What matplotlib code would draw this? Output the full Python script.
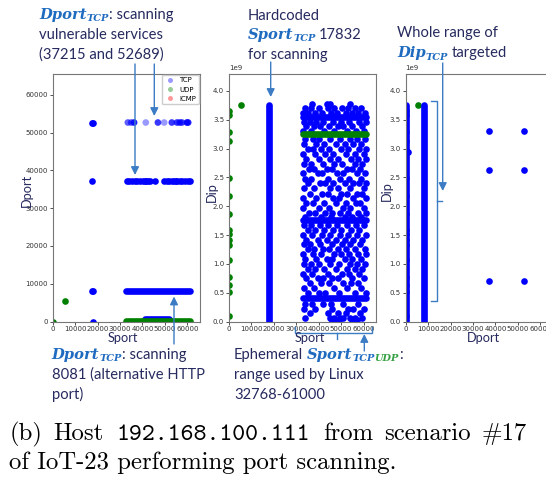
import matplotlib
matplotlib.use("Agg")
import matplotlib.pyplot as plt
from matplotlib.lines import Line2D
from matplotlib.patches import FancyArrowPatch
import numpy as np

# ---- data -------------------------------------------------------------
PORT_MAX = 65535
IP_MAX = 2 ** 32

# panel 1: Sport vs Dport
p1_tcp_sport = [17600, 18100, 17700, 17600, 18100, 17832]
p1_tcp_dport = [52689, 52689, 37215, 8081, 8081, 0]
row37215_sport = [33.0, 34.2, 35.4, 36.6, 37.8, 39.0, 40.2, 41.0, 41.8, 42.6, 43.6,
                  45.8, 49.6, 50.8, 52.0, 53.2, 54.0, 54.8, 55.6, 56.6, 57.8, 59.0,
                  60.2, 61.0]
row52689_sport = [33.5, 35.0, 36.3, 41.5, 46.9, 49.7, 53.1, 55.4, 56.6, 57.6, 59.8, 60.4]
row52689_count = [2, 2, 4, 1, 3, 1, 3, 3, 3, 3, 4, 4]
p1_tcp_band = [(32768, 61000, 8081), (41300, 52000, 700)]   # sport from, sport to, dport
p1_udp_band = [(32768, 61000, 53)]
p1_udp_sport = [0, 5353]
p1_udp_dport = [0, 5353]

# panel 2: Sport vs Dip (Dip in 1e9)
scan_sport = 17832
scan_dip_top = 3.76
udp_zero_dip = [3.65, 3.58, 3.29, 3.13, 2.49, 2.17, 1.86, 1.58, 1.51, 1.42, 1.33,
                1.07, 0.78, 0.64, 0.52, 0.09]
udp_extra = (5353, 3.76)
tcp_dip_bands = [3.55, 1.76, 0.40]
udp_dip_bands = [3.25]
eph_range = (33000, 61000)
cloud_dip = [3.78, 3.70, 3.62, 3.47, 3.39, 3.31, 3.16, 3.08, 2.99, 2.91, 2.82, 2.74,
             2.65, 2.57, 2.48, 2.40, 2.31, 2.22, 2.14, 2.05, 1.97, 1.88, 1.82, 1.67,
             1.59, 1.50, 1.42, 1.34, 1.25, 1.17, 1.08, 1.00, 0.91, 0.83, 0.75, 0.66,
             0.58, 0.50, 0.31, 0.22, 0.14, 0.06, 0.02]
cloud_sport = [
    [37, 43.5, 45, 54],
    [34, 36.5, 40, 44, 47, 50.5, 53, 56, 59],
    [33, 35, 38.5, 41.5, 45.5, 48, 52, 55, 57.5, 60.5],
    [33.5, 36, 39, 42, 46.5, 50, 53.5, 58, 61],
    [34.5, 38, 40.5, 44.5, 48.5, 51, 55, 59.5],
    [33, 36.5, 42.5, 47, 52.5, 56.5, 60],
    [34, 37.5, 40, 45, 49.5, 54, 57, 60.5],
    [33.5, 39, 42.5, 47.5, 51.5, 55.5, 59],
    [35, 37.5, 41, 44.5, 50, 53, 58, 61],
    [33, 38.5, 43, 46.5, 52, 56, 60],
    [34.5, 40, 45, 48.5, 54.5, 57.5, 61],
    [33.5, 36.5, 42, 47, 50.5, 56, 59.5],
    [35.5, 38, 43.5, 46, 52.5, 55, 58.5],
    [33, 39.5, 41.5, 48, 51, 57, 60.5],
    [34, 36.5, 44, 49.5, 53.5, 59],
    [35, 40.5, 43, 46.5, 51.5, 55.5, 58, 61],
    [33.5, 38, 45, 48.5, 54, 60],
    [36, 41.5, 44, 50, 52.5, 57, 59.5],
    [33, 39, 46.5, 49, 55.5, 61],
    [34.5, 37.5, 42.5, 47.5, 52, 56.5, 58.5],
    [33, 40, 44.5, 51, 54, 60],
    [35.5, 38.5, 43, 46, 49.5, 53, 57.5, 61],
    [34, 41, 45.5, 51.5, 55, 59],
    [33.5, 36.5, 40.5, 44, 48, 52.5, 56.5, 60],
    [35, 38.5, 42.5, 46.5, 50, 54.5, 58],
    [33, 37, 41.5, 45, 49.5, 53, 57, 61],
    [34.5, 39.5, 43.5, 47.5, 51.5, 55.5, 59.5],
    [33.5, 36, 40.5, 46, 50.5, 54, 58.5],
    [35, 38, 42, 44.5, 48.5, 52, 56, 60.5],
    [33, 37.5, 41, 47, 50, 53.5, 57.5, 61],
    [34, 39, 43.5, 46, 51.5, 55, 59],
    [33.5, 36.5, 40, 45, 49, 54, 57, 60.5],
    [35, 38.5, 42.5, 47.5, 52.5, 56, 59.5],
    [33, 37, 44, 50.5, 53.5, 58],
    [34.5, 39.5, 42, 46, 48.5, 55, 60],
    [36, 41, 44.5, 51, 54.5, 57.5],
    [33.5, 38, 47, 52.5, 59],
    [35, 40, 43, 49, 56, 61],
    [34, 37, 42, 45.5, 51, 57.5],
    [33.5, 38.5, 46, 53, 55.5, 60],
    [36, 44, 48.5, 52, 58.5],
    [34, 45, 47, 49.5, 51, 54, 56, 59.5],
    [46, 47.5, 49, 55, 57],
]

# panel 3: Dport vs Dip
p3_tcp_vbands = [200, 8081]
p3_tcp_single = (1200, 2.95)
p3_scan_dports = [37215, 52689]
p3_scan_dips = [3.30, 2.63, 0.70]

# ---- style -------------------------------------------------------------
W, H = 546, 483
TCP_C, UDP_C, ICMP_C = "blue", "green", "red"
NAVY = "#262a5e"
HL_BLUE = "#1f6bc0"
HL_GREEN = "#33a043"
ARROW = "#3b7cc4"
S = 23      # scatter marker area
LW = 4.8    # band thickness in points (same as marker diameter)

fig = plt.figure(figsize=(W / 100, H / 100), dpi=100)


def axes_px(left, top, width, height):
    return fig.add_axes([left / W, 1 - (top + height) / H, width / W, height / H])


ax1 = axes_px(52.7, 74, 147, 247.5)
ax2 = axes_px(229, 74, 147, 247.5)
ax3 = axes_px(405.7, 74, 147, 247.5)


def hband(ax, x0, x1, y, c):
    ax.plot([x0, x1], [y, y], color=c, lw=LW, solid_capstyle="round")


def vband(ax, x, y0, y1, c):
    ax.plot([x, x], [y0, y1], color=c, lw=LW, solid_capstyle="round")


# panel 1
for x0, x1, y in p1_tcp_band:
    hband(ax1, x0, x1, y, TCP_C)
ax1.scatter(p1_tcp_sport, p1_tcp_dport, s=S, color=TCP_C, lw=0)
ax1.scatter(np.array(row37215_sport) * 1000, [37215] * len(row37215_sport),
            s=S, color=TCP_C, lw=0)
alphas = 1 - 0.6 ** np.array(row52689_count)
cols = [(0, 0, 1, a) for a in alphas]
ax1.scatter(np.array(row52689_sport) * 1000, [52689] * len(row52689_sport),
            s=S, c=cols, lw=0)
for x0, x1, y in p1_udp_band:
    hband(ax1, x0, x1, y, UDP_C)
ax1.scatter(p1_udp_sport, p1_udp_dport, s=S, color=UDP_C, lw=0)

handles = [Line2D([], [], ls="", marker="o", ms=3.6, color=c, alpha=0.4, mew=0)
           for c in (TCP_C, UDP_C, ICMP_C)]
ax1.legend(handles, ["TCP", "UDP", "ICMP"], loc="upper right", fontsize=5,
           borderaxespad=0.15, borderpad=0.35, handletextpad=0.4, handlelength=1.8,
           labelspacing=0.45, framealpha=1, edgecolor="#cccccc", fancybox=True)

# panel 2
vband(ax2, scan_sport, 0, scan_dip_top * 1e9, TCP_C)
cx, cy = [], []
for d, row in zip(cloud_dip, cloud_sport):
    cx += [v * 1000 for v in row]
    cy += [d * 1e9] * len(row)
ax2.scatter(cx, cy, s=S, color=TCP_C, lw=0)
for d in tcp_dip_bands:
    hband(ax2, eph_range[0], eph_range[1], d * 1e9, TCP_C)
for d in udp_dip_bands:
    hband(ax2, eph_range[0], eph_range[1], d * 1e9, UDP_C)
ax2.scatter([0] * len(udp_zero_dip), np.array(udp_zero_dip) * 1e9, s=S, color=UDP_C, lw=0)
ax2.scatter([udp_extra[0]], [udp_extra[1] * 1e9], s=S, color=UDP_C, lw=0)

# panel 3
for x in p3_tcp_vbands:
    vband(ax3, x, 0, scan_dip_top * 1e9, TCP_C)
ax3.scatter([p3_tcp_single[0]], [p3_tcp_single[1] * 1e9], s=S, color=TCP_C, lw=0)
for x in p3_scan_dports:
    ax3.scatter([x] * len(p3_scan_dips), np.array(p3_scan_dips) * 1e9, s=S,
                color=TCP_C, lw=0)
ax3.scatter([0] * len(udp_zero_dip), np.array(udp_zero_dip) * 1e9, s=S, color=UDP_C, lw=0)
ax3.scatter([udp_extra[0]], [udp_extra[1] * 1e9], s=S, color=UDP_C, lw=0)

for ax in (ax1, ax2, ax3):
    ax.set_xlim(0, PORT_MAX)
    ax.tick_params(labelsize=5, length=2, width=0.6, colors="#333333", pad=1.5)
    for sp in ax.spines.values():
        sp.set_color("#777777")
        sp.set_linewidth(0.8)
    ax.yaxis.get_offset_text().set_fontsize(5)
ax1.set_ylim(0, PORT_MAX)
ax2.set_ylim(0, IP_MAX)
ax3.set_ylim(0, IP_MAX)

# ---- text helpers --------------------------------------------------------
plain = dict(family="Lato", size=10.6, color=NAVY)
hl = dict(family="DejaVu Serif", style="italic", weight="bold", size=10.6, color=HL_BLUE)
sub = dict(family="DejaVu Serif", style="italic", weight="bold", size=7, color=HL_BLUE)
sub_g = dict(sub, color=HL_GREEN)
lab = dict(family="Lato", size=9.2, color=NAVY)
cm_rm = dict(family="cmr10", size=17.8, color="black")
cm_tt = dict(family="cmtt10", size=17.8, color="black")

renderer = fig.canvas.get_renderer()


def rich_line(x, y, parts):
    # x, y in pixels from the top-left corner, y = baseline
    for gap, s, kw, dy in parts:
        x += gap
        t = fig.text(x / W, 1 - (y + dy) / H, s, ha="left", va="baseline", **kw)
        x += t.get_window_extent(renderer).width


def line(x, y, s, kw=plain):
    rich_line(x, y, [(0, s, kw, 0)])


def arrow(x0, y0, x1, y1):
    fig.add_artist(FancyArrowPatch((x0 / 100, (H - y0) / 100), (x1 / 100, (H - y1) / 100),
                                   transform=fig.dpi_scale_trans, arrowstyle="-|>",
                                   mutation_scale=12, color=ARROW, lw=1.0,
                                   shrinkA=0, shrinkB=0))


def polyline(xs, ys):
    fig.add_artist(Line2D(np.array(xs) / W, 1 - np.array(ys) / H, color=ARROW, lw=1.0,
                          transform=fig.transFigure))


# axis labels
fig.text(122.7 / W, 1 - 342.5 / H, "Sport", ha="center", va="baseline", **lab)
fig.text(310 / W, 1 - 342.5 / H, "Sport", ha="center", va="baseline", **lab)
fig.text(483 / W, 1 - 342.5 / H, "Dport", ha="center", va="baseline", **lab)
fig.text(27 / W, 1 - 190 / H, "Dport", ha="center", va="center", rotation=90, **lab)
fig.text(211.7 / W, 1 - 192 / H, "Dip", ha="center", va="center", rotation=90, **lab)
fig.text(386.7 / W, 1 - 191 / H, "Dip", ha="center", va="center", rotation=90, **lab)

# annotations - top
rich_line(39, 19.3, [(0, "Dport", hl, 0), (0, "TCP", sub, 2), (0, ": scanning", plain, 0)])
line(39, 39.3, "vulnerable services")
line(39, 58.8, "(37215 and 52689)")
arrow(135, 64, 135, 175)
arrow(154.3, 64, 154.3, 116)

line(247.7, 19.8, "Hardcoded")
rich_line(247.7, 39, [(0, "Sport", hl, 0), (0, "TCP", sub, 2), (3.5, "17832", plain, 0)])
line(247.7, 58.8, "for scanning")
arrow(270.7, 62, 270.7, 97)

line(397, 37.5, "Whole range of")
rich_line(397, 57.5, [(0, "Dip", hl, 0), (0, "TCP", sub, 2), (3.5, "targeted", plain, 0)])
arrow(442.7, 63, 442.7, 191)
polyline([431, 436.7, 436.7, 431], [100.7, 100.7, 300.7, 300.7])
polyline([436.7, 441.7], [200.7, 200.7])

# annotations - bottom
arrow(174, 344, 174, 296.5)
rich_line(51.7, 359, [(0, "Dport", hl, 0), (0, "TCP", sub, 2), (0, ": scanning", plain, 0)])
line(51.7, 379, "8081 (alternative HTTP")
line(51.7, 399, "port)")

polyline([295, 295, 371.7, 371.7], [327, 333, 333, 327])
polyline([336.7, 336.7], [333, 339])
arrow(364.3, 351, 364.3, 334)
rich_line(234, 359, [(0, "Ephemeral", plain, 0), (3.5, "Sport", hl, 0), (0, "TCP", sub, 2),
                     (0, "UDP", sub_g, 2), (0, ":", plain, 0)])
line(234, 379, "range used by Linux")
line(234, 399, "32768-61000")

# caption (first line is justified, so its word gaps are wider)
rich_line(9.3, 440, [(0, "(b)", cm_rm, 0), (11, "Host", cm_rm, 0),
                     (13, "192.168.100.111", cm_tt, 0), (13, "from", cm_rm, 0),
                     (11, "scenario", cm_rm, 0), (11, "#17", cm_rm, 0)])
line(9.3, 469, "of IoT-23 performing port scanning.", cm_rm)

fig.savefig("out.png", dpi=100)
